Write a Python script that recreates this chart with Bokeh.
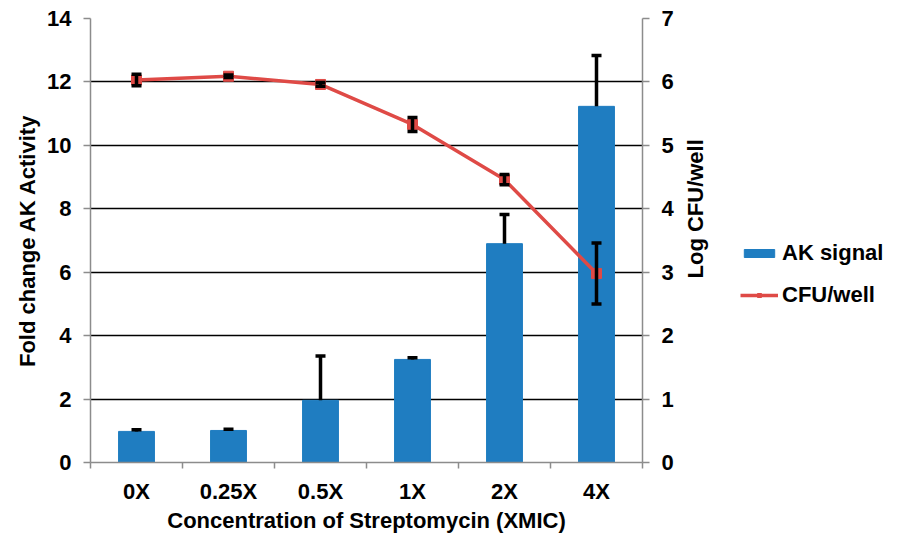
import math
from bokeh.plotting import figure
from bokeh.layouts import row
from bokeh.models import (ColumnDataSource, Range1d, LinearAxis, FixedTicker, Whisker,
                          TeeHead, Legend, LegendItem, Label)
from bokeh.embed import file_html
from bokeh.resources import INLINE

categories = ["0X", "0.25X", "0.5X", "1X", "2X", "4X"]
ak_signal = [0.98, 1.01, 1.96, 3.25, 6.90, 11.23]
ak_err = [0.05, 0.04, 1.40, 0.05, 0.92, 1.60]
cfu = [6.03, 6.09, 5.96, 5.33, 4.46, 2.98]
cfu_err = [0.09, 0.02, 0.03, 0.11, 0.08, 0.48]
series_names = ["AK signal", "CFU/well"]
right_title = "Log CFU/well"

x = [i + 0.5 for i in range(len(categories))]
src = ColumnDataSource(dict(
    x=x, ak=ak_signal, ak_up=[v + e for v, e in zip(ak_signal, ak_err)],
    cfu=cfu, cfu_lo=[v - e for v, e in zip(cfu, cfu_err)],
    cfu_up=[v + e for v, e in zip(cfu, cfu_err)]))

FONT = "Liberation Sans"
FS = "22px"
BLUE = "#1F7DC1"
RED = "#DF4A46"
AXC = "#8C8C8C"
MAIN_W = 680

p = figure(width=MAIN_W, height=537, output_backend="svg", toolbar_location=None,
           x_range=Range1d(0, 6), y_range=Range1d(0, 14),
           min_border_left=90, min_border_right=MAIN_W - 642, min_border_top=18,
           min_border_bottom=75)
p.extra_y_ranges = {"cfu": Range1d(0, 7)}
p.outline_line_color = None

bars = p.vbar(x="x", top="ak", width=0.39, source=src, fill_color=BLUE, line_color=BLUE)
p.add_layout(Whisker(base="x", upper="ak_up", lower="ak", source=src, dimension="height",
                     line_color="black", line_width=3.5,
                     upper_head=TeeHead(size=10, line_color="black", line_width=3.5),
                     lower_head=None, level="glyph"))
line = p.line(x="x", y="cfu", source=src, y_range_name="cfu", line_color=RED, line_width=3.5)
marks = p.scatter(x="x", y="cfu", source=src, y_range_name="cfu", marker="square",
                  size=10, fill_color=RED, line_color=RED)
p.add_layout(Whisker(base="x", upper="cfu_up", lower="cfu_lo", source=src, dimension="height",
                     y_range_name="cfu", line_color="black", line_width=3.5,
                     upper_head=TeeHead(size=10, line_color="black", line_width=3.5),
                     lower_head=TeeHead(size=10, line_color="black", line_width=3.5),
                     level="overlay"))

# axes
xa = p.xaxis[0]
xa.ticker = FixedTicker(ticks=x, minor_ticks=list(range(len(categories) + 1)))
xa.major_label_overrides = {v: c for v, c in zip(x, categories)}
xa.axis_label = "Concentration of Streptomycin (XMIC)"
xa.major_tick_out = 0
xa.major_tick_in = 0
xa.minor_tick_out = 6
xa.minor_tick_in = 0

ya = p.yaxis[0]
ya.ticker = FixedTicker(ticks=list(range(0, 15, 2)))
ya.axis_label = "Fold change AK Activity"

ra = LinearAxis(y_range_name="cfu", ticker=FixedTicker(ticks=list(range(0, 8))))
p.add_layout(ra, "right")

for ax in [xa, ya, ra]:
    ax.axis_line_color = AXC
    ax.axis_line_width = 1.5
    ax.major_tick_line_color = AXC
    ax.minor_tick_line_color = AXC
    ax.major_tick_line_width = 1.5
    ax.minor_tick_line_width = 1.5
    ax.major_label_text_font = FONT
    ax.major_label_text_font_style = "bold"
    ax.major_label_text_font_size = FS
    ax.major_label_text_color = "black"
    ax.axis_label_text_font = FONT
    ax.axis_label_text_font_style = "bold"
    ax.axis_label_text_font_size = FS
    ax.axis_label_text_color = "black"
for ax in [ya, ra]:
    ax.major_tick_out = 7
    ax.major_tick_in = 0
    ax.minor_tick_out = 0
    ax.minor_tick_in = 0
    ax.major_label_standoff = 12
ya.axis_label_standoff = 4
xa.major_label_standoff = 10
xa.axis_label_standoff = 1

p.xgrid.grid_line_color = None
p.ygrid.grid_line_color = "black"
p.ygrid.grid_line_width = 1.5
p.ygrid.ticker = ya.ticker

# side canvas: right-axis title and legend; its renderers hold no visible data,
# they only provide the legend swatches.  Its frame is aligned with the main frame
# (bottom at 462 px from the top of the page).
FRAME_BOTTOM = 462
lf = figure(width=899 - MAIN_W, height=537, output_backend="svg", toolbar_location=None,
            x_range=Range1d(0, 1), y_range=Range1d(0, 1),
            min_border_left=0, min_border_right=0, min_border_top=0, min_border_bottom=0)
lf.axis.visible = False
lf.grid.visible = False
lf.outline_line_color = None
lf.add_layout(Label(x=695 - MAIN_W, y=FRAME_BOTTOM - 278, x_units="screen", y_units="screen",
                    text=right_title, angle=math.pi / 2, text_align="left",
                    text_baseline="middle", text_font=FONT, text_font_style="bold",
                    text_font_size=FS, text_color="black"))
nan = float("nan")
empty = ColumnDataSource(dict(x=[nan], y=[nan], top=[nan]))
lb = lf.vbar(x="x", top="top", width=0.4, source=empty, fill_color=BLUE, line_color=BLUE)
ll = lf.line(x="x", y="y", source=empty, line_color=RED, line_width=3.5)
lm = lf.scatter(x="x", y="y", source=empty, marker="square", size=9,
                fill_color=RED, line_color=RED)
legend = Legend(items=[LegendItem(label=series_names[0], renderers=[lb]),
                       LegendItem(label=series_names[1], renderers=[ll, lm])],
                location=(740 - MAIN_W, 154), border_line_color=None,
                background_fill_alpha=0,
                label_text_font=FONT, label_text_font_style="bold",
                label_text_font_size=FS, label_text_color="black",
                glyph_width=38, glyph_height=10,
                spacing=16, padding=0, margin=0, label_standoff=4)
lf.add_layout(legend, "center")

open("out.html", "w").write(file_html(row(p, lf), INLINE))
